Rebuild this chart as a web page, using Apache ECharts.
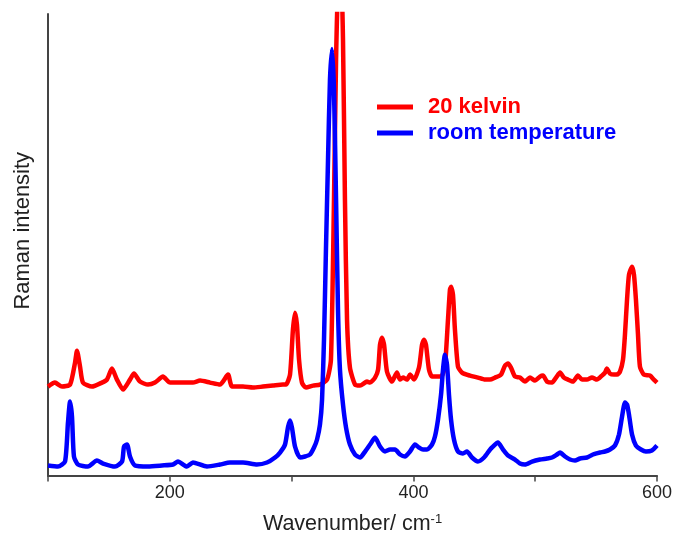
<!DOCTYPE html>
<html>
<head>
<meta charset="utf-8">
<script src="https://cdn.jsdelivr.net/npm/echarts@6/dist/echarts.min.js"></script>
<style>html,body{margin:0;padding:0;background:#fff}#chart{width:677px;height:540px}</style>
</head>
<body>
<div id="chart"></div>
<script>
// spectra, intensity in arbitrary units
const redWavenumber = [100, 105.7, 111.5, 118.1, 122.2, 123.8, 126.3, 128.7, 136.1, 144.3, 148.4, 152.5, 156.6, 161.6, 167.3, 170.6, 175.5, 182.1, 187.8, 194.4, 200.2, 208.4, 219, 224.8, 233, 241.2, 247.8, 251.1, 260.1, 268.3, 276.5, 284.7, 292.9, 295.4, 298.7, 301.1, 302.8, 304.4, 306.1, 308.5, 311.8, 317.6, 323.3, 329.1, 332.3, 334.8, 336.5, 338.1, 340.6, 342.2, 343.8, 345.5, 347.9, 352.1, 356.2, 361.9, 364.4, 368.5, 371, 372.6, 374.2, 375.9, 378.3, 382.4, 386.5, 389, 391.5, 394.7, 397.2, 400.5, 404.6, 407.1, 408.7, 410.3, 412.8, 415.3, 420.2, 423.5, 425.9, 428.4, 430, 430.9, 432.5, 434.1, 436.6, 439.9, 446.4, 453, 458.8, 462.9, 467, 471.9, 475.2, 477.7, 480.1, 483.4, 487.5, 491.6, 495.7, 499.8, 503.9, 506.4, 509.7, 513.8, 517.1, 520.4, 523.6, 526.9, 531, 535.1, 538.4, 542.5, 546.6, 550.7, 554.8, 557.3, 558.9, 561.4, 564.7, 567.2, 569.6, 572.1, 573.7, 575.4, 577, 579.5, 581.1, 582.7, 584.4, 586, 589.2, 594.2, 597.4, 600];
const redIntensity = [113, 117, 113, 115, 137, 149, 133, 117, 113, 117, 120, 131, 120, 110, 120, 126, 118, 115, 117, 123, 117, 117, 117, 119, 117, 115, 125, 113, 113, 112, 113, 114, 115, 115, 125, 170, 187, 175, 140, 117, 112, 114, 115, 120, 140, 300, 440, 510, 520, 460, 300, 180, 132, 115, 114, 118, 117, 122, 130, 155, 162, 155, 128, 118, 127, 120, 122, 120, 125, 120, 132, 155, 160, 155, 130, 123, 123, 124, 133, 180, 210, 213, 205, 170, 133, 127, 124, 122, 120, 120, 122, 125, 134, 136, 132, 123, 122, 118, 122, 119, 123, 124, 118, 117, 122, 127, 122, 120, 118, 124, 120, 120, 122, 120, 124, 127, 131, 126, 125, 125, 128, 140, 165, 200, 225, 233, 225, 200, 165, 133, 125, 124, 120, 117];

const blueWavenumber = [100, 108.2, 114, 116.4, 118.1, 119.7, 121.3, 124.6, 132.8, 140.2, 145.2, 155, 160.8, 162.4, 164.9, 167.3, 171.4, 182.1, 193.6, 202.6, 206.7, 214.1, 219, 230.5, 241.2, 249.4, 260.1, 271.6, 279.8, 286.4, 290.5, 294.6, 297, 298.7, 300.3, 302.8, 306.9, 311, 315.1, 318.4, 320.9, 323.3, 325, 326.6, 328.2, 329.9, 331.5, 333.2, 334.8, 336.5, 338.1, 339.7, 342.2, 344.7, 347.9, 352.1, 356.2, 360.3, 364.4, 368.5, 372.6, 376.7, 380.8, 384.9, 389, 393.1, 397.2, 401.3, 404.6, 407.9, 411.2, 415.3, 417.7, 420.2, 422.7, 424.3, 425.9, 427.6, 429.2, 430.9, 433.3, 436.6, 440.7, 444, 448.1, 453, 458, 462.9, 464.5, 469.4, 473.6, 477.7, 483.4, 487.5, 491.6, 497.4, 503.9, 509.7, 513.8, 517.9, 520.4, 524.5, 528.6, 532.7, 536.8, 542.5, 547.4, 553.2, 557.3, 561.4, 565.5, 568.8, 571.3, 573.7, 575.4, 577, 579.5, 582.7, 586.8, 590.9, 595.8, 600];
const blueIntensity = [34, 33, 38, 77, 98, 83, 43, 35, 33, 39, 36, 33, 38, 53, 55, 43, 34, 33, 34, 35, 38, 33, 37, 33, 35, 37, 37, 35, 37, 42, 47, 55, 72, 79, 72, 53, 42, 43, 45, 52, 60, 75, 100, 160, 250, 340, 420, 451, 410, 300, 190, 130, 95, 72, 55, 45, 42, 48, 55, 62, 53, 48, 50, 50, 45, 43, 48, 55, 52, 50, 50, 55, 63, 80, 105, 130, 145, 135, 105, 80, 60, 48, 46, 48, 42, 38, 42, 50, 52, 57, 50, 44, 40, 36, 35, 38, 40, 41, 42, 45, 47, 43, 40, 39, 41, 42, 45, 47, 48, 50, 54, 65, 83, 97, 95, 85, 65, 54, 50, 48, 49, 54];

const xTickLabels = [200, 400, 600];
const seriesNames = ['20 kelvin', 'room temperature'];

const zip = (xs, ys) => xs.map((x, i) => [x, ys[i]]);
const font = 'Liberation Sans, Arial, sans-serif';

const chart = echarts.init(document.getElementById('chart'));
chart.setOption({
    animation: false,
    grid: { left: 48, right: 20, top: 14, bottom: 64 },
    legend: {
        orient: 'vertical',
        left: 372,
        top: 91,
        icon: 'rect',
        itemWidth: 36,
        itemHeight: 5,
        itemGap: 4,
        textStyle: { fontFamily: font, fontSize: 22, fontWeight: 'bold', padding: [0, 0, 0, 10] },
        data: [
            { name: seriesNames[0], textStyle: { color: '#ff0000' } },
            { name: seriesNames[1], textStyle: { color: '#0000ff' } }
        ]
    },
    xAxis: {
        type: 'value',
        min: 100,
        max: 600,
        interval: 100,
        name: 'Wavenumber/ cm{sup|-1}',
        nameLocation: 'middle',
        nameGap: 37,
        nameTextStyle: {
            fontFamily: font, fontSize: 21.5, color: '#222',
            rich: { sup: { fontFamily: font, fontSize: 13, color: '#222', verticalAlign: 'top', padding: [0, 0, 10, 0] } }
        },
        axisLine: { lineStyle: { color: '#444', width: 2 } },
        axisTick: { length: 6, lineStyle: { color: '#444', width: 1.5 } },
        axisLabel: {
            fontFamily: font, fontSize: 18, color: '#222', margin: 9,
            formatter: v => xTickLabels.includes(v) ? String(v) : ''
        },
        splitLine: { show: false }
    },
    yAxis: {
        type: 'value',
        min: 24,
        max: 486,
        name: 'Raman intensity',
        nameLocation: 'middle',
        nameGap: 14,
        nameTextStyle: { fontFamily: font, fontSize: 22, color: '#222', padding: [0, 0, 0, 28] },
        axisLine: { show: true, lineStyle: { color: '#444', width: 2 } },
        axisTick: { show: false },
        axisLabel: { show: false },
        splitLine: { show: false }
    },
    series: [
        {
            name: seriesNames[0],
            type: 'line',
            data: zip(redWavenumber, redIntensity),
            showSymbol: false,
            symbol: 'none',
            smooth: 0.2,
            color: '#ff0000',
            lineStyle: { width: 4.5, color: '#ff0000' }
        },
        {
            name: seriesNames[1],
            type: 'line',
            data: zip(blueWavenumber, blueIntensity),
            showSymbol: false,
            symbol: 'none',
            smooth: 0.2,
            color: '#0000ff',
            lineStyle: { width: 4.5, color: '#0000ff' }
        }
    ]
});
</script>
</body>
</html>
